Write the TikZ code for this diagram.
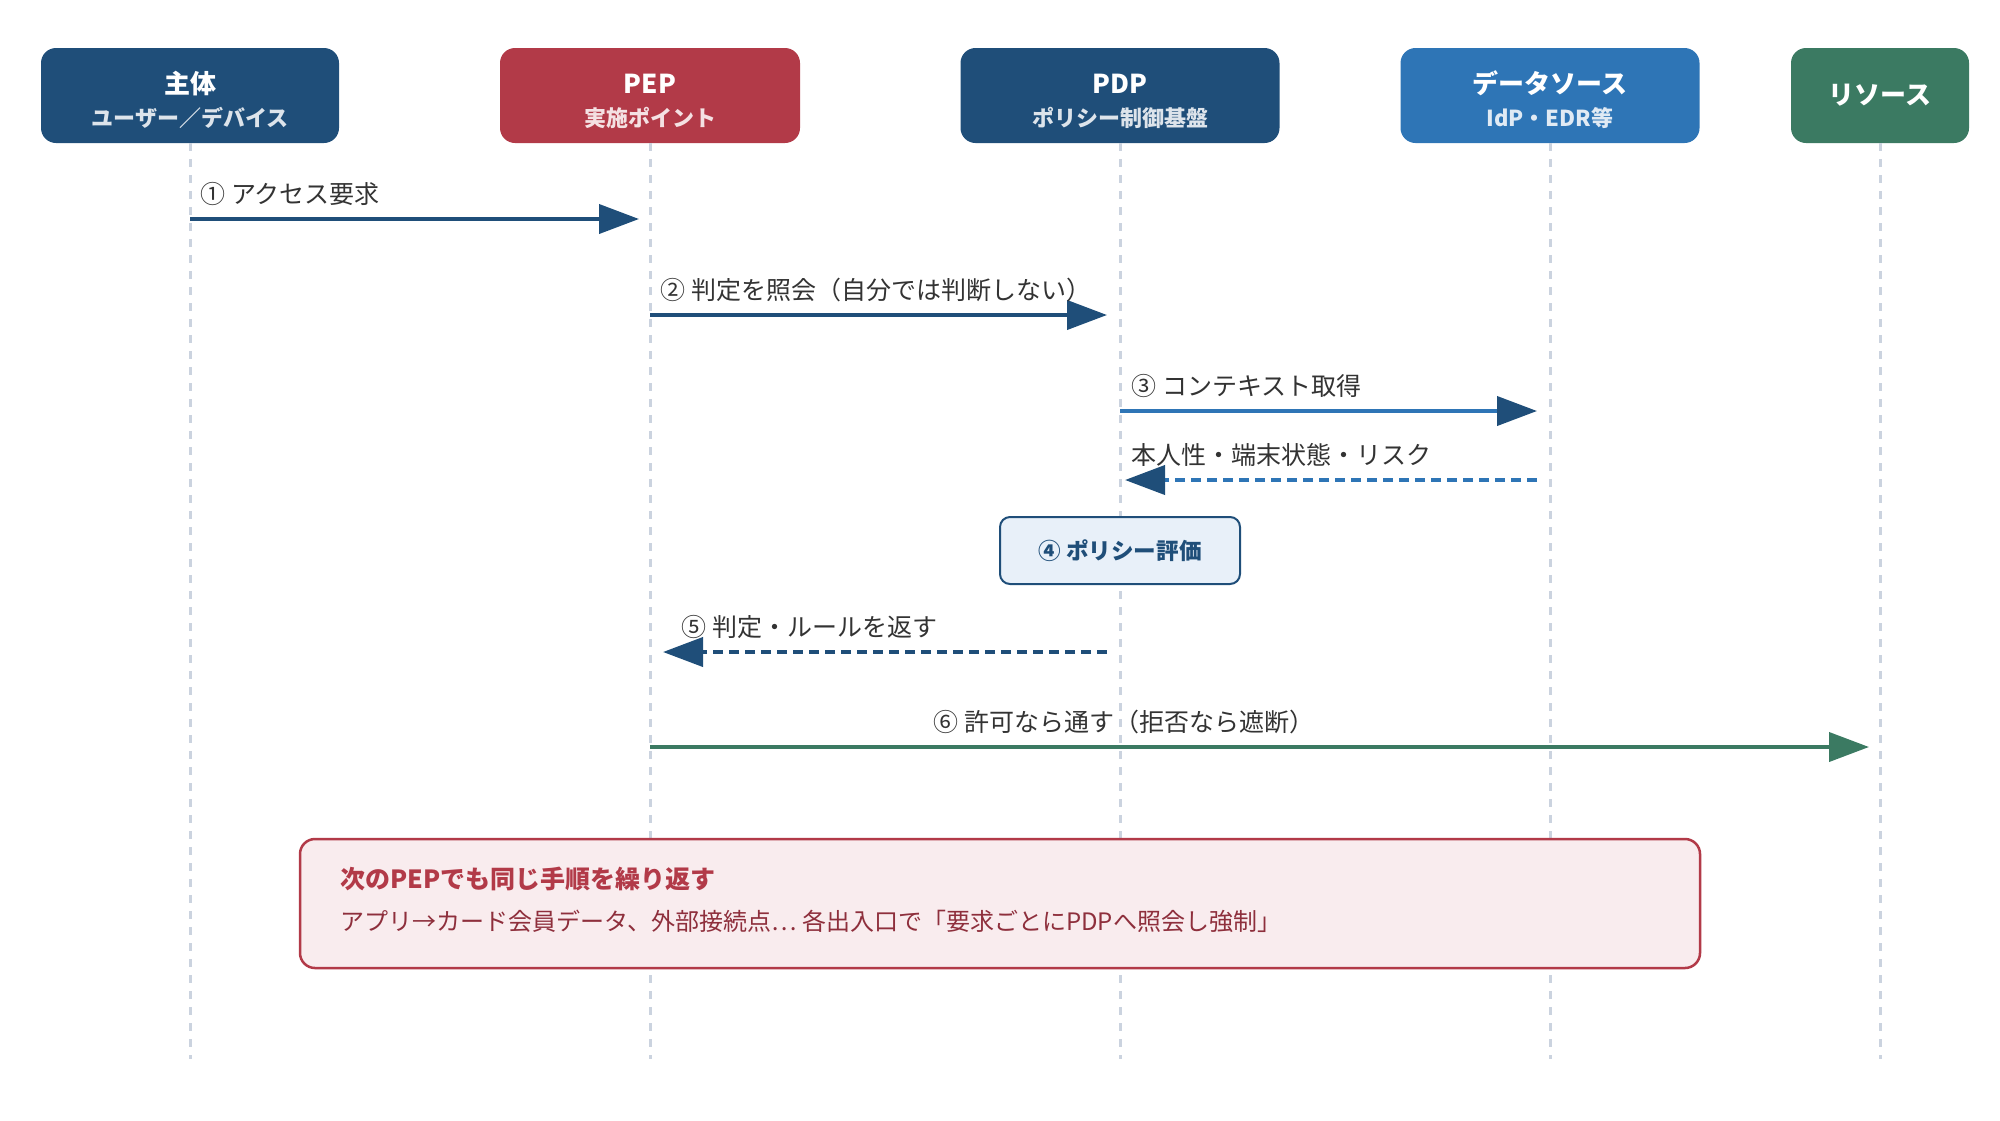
\documentclass[tikz,border=0pt]{standalone}
\usepackage{fontspec}
\setmainfont{Noto Sans CJK JP}
\usetikzlibrary{arrows.meta}
\definecolor{navy}{HTML}{1F4E79}
\definecolor{pepred}{HTML}{B23A48}
\definecolor{srcblue}{HTML}{2E75B6}
\definecolor{resgreen}{HTML}{3B7A62}
\definecolor{lifegray}{HTML}{CBD3DF}
\definecolor{txtgray}{HTML}{333333}
\definecolor{evalfill}{HTML}{E8F0F9}
\definecolor{notefill}{HTML}{F9ECEE}
\definecolor{notetext}{HTML}{8E2F3C}
\tikzset{
  tip/.style={-{Triangle[length=20pt,width=14.5pt,color=#1]}},
}
\newcommand{\hdtitle}[1]{\textcolor{white}{\rule{0pt}{16pt}\fontsize{13}{16.5}\selectfont #1}}
\begin{document}
\begin{tikzpicture}[x=0.5pt,y=-0.5pt,
    actor/.style={rounded corners=7.5pt, minimum height=47.5pt, align=center, inner sep=0pt,
      font=\fontsize{11}{16.5}\selectfont\bfseries},
    life/.style={lifegray, line width=1.5pt, dash pattern=on 3.75pt off 4.25pt},
    msg/.style={navy, line width=2pt, tip=navy},
    ret/.style={msg, dash pattern=on 5pt off 3pt},
    lbl/.style={txtgray, inner sep=0pt, anchor=base west, font=\fontsize{12.5}{15}\selectfont}]
\useasboundingbox (0,0) rectangle (2000,1120);
\node[actor, fill=navy, text=navy!15, minimum width=149pt] (subj) at (190,95.5)
  {\hdtitle{主体}\\ユーザー／デバイス};
\node[actor, fill=pepred, text=pepred!15, minimum width=150pt] (pep) at (650,95.5)
  {\hdtitle{PEP}\\実施ポイント};
\node[actor, fill=navy, text=navy!15, minimum width=159.5pt] (pdp) at (1120,95.5)
  {\hdtitle{PDP}\\ポリシー制御基盤};
\node[actor, fill=srcblue, text=srcblue!15, minimum width=149.5pt] (src) at (1550,95.5)
  {\hdtitle{データソース}\\IdP・EDR等};
\node[actor, fill=resgreen, text=white, minimum width=89pt, font=\fontsize{13}{16.5}\selectfont\bfseries] (res) at (1880,95.5)
  {リソース};
\coordinate (bot) at (0,1059);
\foreach \n in {subj,pep,pdp,src,res}
  \draw[life] (\n) -- (\n |- bot);
\coordinate (y1) at (0,219);
\coordinate (y2) at (0,315);
\coordinate (y3) at (0,411);
\coordinate (y4) at (0,480);
\coordinate (y5) at (0,652);
\coordinate (y6) at (0,747);
\draw[msg, shorten >=5.5pt] (subj |- y1) -- (pep |- y1);
\node[lbl] (t1) at ([xshift=5pt,yshift=8pt]subj |- y1) {① アクセス要求};
\draw[msg, shorten >=6.5pt] (pep |- y2) -- (pdp |- y2);
\node[lbl] (t2) at ([xshift=5pt,yshift=8pt]pep |- y2) {② 判定を照会（自分では判断しない）};
\draw[msg, srcblue, tip=navy, shorten >=6.5pt] (pdp |- y3) -- (src |- y3);
\node[lbl] (t3) at ([xshift=5.5pt,yshift=8pt]pdp |- y3) {③ コンテキスト取得};
\draw[ret, srcblue, tip=navy, shorten <=6.5pt, shorten >=2.5pt] (src |- y4) -- (pdp |- y4);
\node[lbl] (t4) at ([xshift=5.5pt,yshift=8pt]pdp |- y4) {本人性・端末状態・リスク};
\node[draw=navy, line width=1pt, fill=evalfill, rounded corners=5pt, minimum width=120pt,
  minimum height=33.5pt, text=navy, font=\fontsize{11.3}{13}\selectfont\bfseries] (eval) at (1120,550.5)
  {④ ポリシー評価};
\draw[ret, shorten <=6.5pt, shorten >=6.5pt] (pdp |- y5) -- (pep |- y5);
\node[lbl] (t5) at ([xshift=15.5pt,yshift=8pt]pep |- y5) {⑤ 判定・ルールを返す};
\draw[msg, resgreen, tip=resgreen, shorten >=5.5pt] (pep |- y6) -- (res |- y6);
\node[lbl, anchor=base] (t6) at ([xshift=2pt,yshift=8pt]pdp |- y6) {⑥ 許可なら通す（拒否なら遮断）};
\node[draw=pepred, line width=1.25pt, fill=notefill, rounded corners=7.5pt, minimum width=700pt,
  minimum height=64.5pt] (note) at (1000,903.5) {};
\node[anchor=base west, inner sep=0pt, text=pepred, font=\fontsize{12.5}{15}\selectfont\bfseries] (notehead)
  at ([xshift=20.5pt,yshift=7.75pt]note.west) {次のPEPでも同じ手順を繰り返す};
\node[anchor=base west, inner sep=0pt, text=notetext, font=\fontsize{12}{14}\selectfont] (notebody)
  at ([xshift=20.5pt,yshift=-13.25pt]note.west) {アプリ→カード会員データ、外部接続点… 各出入口で「要求ごとにPDPへ照会し強制」};
\end{tikzpicture}
\end{document}
